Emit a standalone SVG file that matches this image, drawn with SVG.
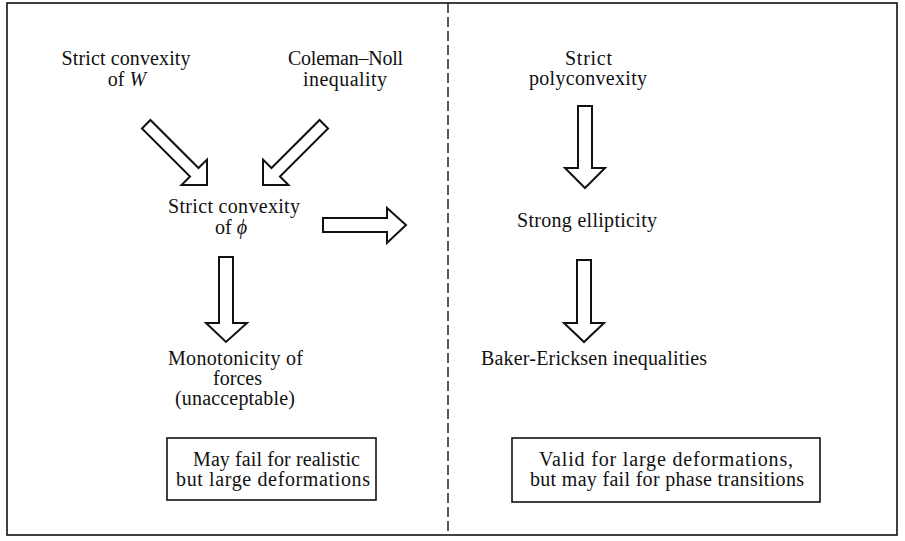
<svg xmlns="http://www.w3.org/2000/svg" width="905" height="541" viewBox="0 0 905 541">
<style>
text{font-family:"Liberation Serif","Times New Roman",serif;font-size:20px;fill:#111;text-anchor:middle}
.it{font-style:italic}
.frame{fill:none;stroke:#111;stroke-width:1.6}
.div{fill:none;stroke:#111;stroke-width:1.4;stroke-dasharray:10 4}
.arr{fill:#fff;stroke:#111;stroke-width:2;stroke-linejoin:miter}
.box{fill:#fff;stroke:#111;stroke-width:1.6}
</style>
<defs>
<polygon id="diag" points="0,0 -18,-18 -18,-6 -86,-6 -86,6 -18,6 -18,18"/>
</defs>
<rect class="frame" x="7" y="3" width="890" height="532"/>
<line class="div" x1="448" y1="3" x2="448" y2="535"/>

<g id="strict-convexity-W">
<text x="126" y="65" textLength="129" lengthAdjust="spacing">Strict convexity</text>
<text x="127" y="86">of <tspan class="it">W</tspan></text>
</g>
<g id="coleman-noll">
<text x="345.5" y="65" textLength="115" lengthAdjust="spacing">Coleman–Noll</text>
<text x="345" y="86" textLength="84" lengthAdjust="spacing">inequality</text>
</g>
<g id="strict-convexity-phi">
<text x="234" y="213" textLength="132" lengthAdjust="spacing">Strict convexity</text>
<text x="231" y="234">of <tspan class="it">ϕ</tspan></text>
</g>
<g id="monotonicity">
<text x="235.5" y="365" textLength="135" lengthAdjust="spacing">Monotonicity of</text>
<text x="237.5" y="385" textLength="49" lengthAdjust="spacing">forces</text>
<text x="235" y="405" textLength="120" lengthAdjust="spacing">(unacceptable)</text>
</g>
<g id="note-left">
<rect class="box" x="167" y="438" width="209" height="62"/>
<text x="276.5" y="466" textLength="167" lengthAdjust="spacing">May fail for realistic</text>
<text x="273" y="486" textLength="194" lengthAdjust="spacing">but large deformations</text>
</g>
<g id="strict-polyconvexity">
<text x="588.5" y="65" textLength="47" lengthAdjust="spacing">Strict</text>
<text x="588" y="85" textLength="118" lengthAdjust="spacing">polyconvexity</text>
</g>
<g id="strong-ellipticity">
<text x="587" y="227" textLength="140" lengthAdjust="spacing">Strong ellipticity</text>
</g>
<g id="baker-ericksen">
<text x="594" y="365" textLength="226" lengthAdjust="spacing">Baker-Ericksen inequalities</text>
</g>
<g id="note-right">
<rect class="box" x="512" y="438" width="308" height="64"/>
<text x="666" y="466" textLength="254" lengthAdjust="spacing">Valid for large deformations,</text>
<text x="667" y="486" textLength="274" lengthAdjust="spacing">but may fail for phase transitions</text>
</g>

<g id="connectors">
<use href="#diag" class="arr" transform="translate(207,185) rotate(45)"/>
<use href="#diag" class="arr" transform="translate(263,185) rotate(135)"/>
<polygon class="arr" points="219,257 233,257 233,323 247,323 226,342 206,323 219,323"/>
<polygon class="arr" points="323,218 387,218 387,208 406,225 387,243 387,232 323,232"/>
<polygon class="arr" points="578,106 592,106 592,168 605,168 585,188 565,168 578,168"/>
<polygon class="arr" points="577,260 591,260 591,323 604,323 584,342 564,323 577,323"/>
</g>
</svg>
